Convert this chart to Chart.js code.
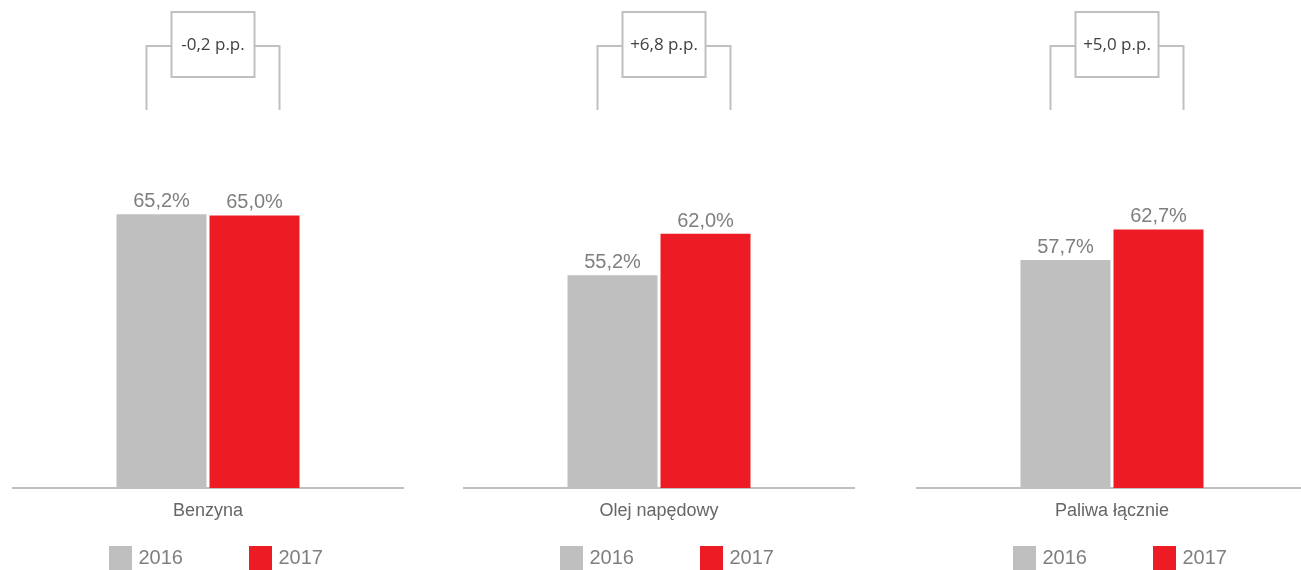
<!DOCTYPE html>
<html>
<head>
<meta charset="utf-8">
<script src="https://cdn.jsdelivr.net/npm/chart.js@4.4.0/dist/chart.umd.min.js"></script>
<style>
  html, body { margin: 0; padding: 0; background: #fff; }
  body { width: 1301px; height: 570px; position: relative; overflow: hidden; }
  .panel { position: absolute; top: 0; width: 392px; height: 570px; }
</style>
</head>
<body>
<div class="panel" style="left:12px"><canvas id="chart-1" width="392" height="570"></canvas></div>
<div class="panel" style="left:463px"><canvas id="chart-2" width="392" height="570"></canvas></div>
<div class="panel" style="left:916px"><canvas id="chart-3" width="392" height="570"></canvas></div>
<script>
const categories = ['Benzyna', 'Olej napędowy', 'Paliwa łącznie'];
const years = ['2016', '2017'];
const values2016 = [65.2, 55.2, 57.7];
const values2017 = [65.0, 62.0, 62.7];
const changes = ['-0,2 p.p.', '+6,8 p.p.', '+5,0 p.p.'];
const colors = ['#bfbfbf', '#ed1c24'];

const FONT = '"Liberation Sans", Arial, sans-serif';

// value labels, bracket with change box, legend
const extras = {
  id: 'extras',
  afterDatasetsDraw(chart, args, opts) {
    const ctx = chart.ctx;
    const bars = [chart.getDatasetMeta(0).data[0], chart.getDatasetMeta(1).data[0]];
    ctx.save();

    ctx.font = '20px ' + FONT;
    ctx.fillStyle = '#7f7f7f';
    ctx.textAlign = 'center';
    ctx.textBaseline = 'alphabetic';
    bars.forEach((bar, i) => {
      const v = chart.data.datasets[i].data[0];
      ctx.fillText(v.toFixed(1).replace('.', ',') + '%', bar.x, bar.y - 7);
    });

    const left = bars[0].x - 15;
    const right = bars[1].x + 25;
    const mid = (left + right) / 2;
    ctx.strokeStyle = '#c0c0c0';
    ctx.lineWidth = 2;
    ctx.beginPath();
    ctx.moveTo(left, 110); ctx.lineTo(left, 46); ctx.lineTo(mid - 41.5, 46);
    ctx.moveTo(mid + 41.5, 46); ctx.lineTo(right, 46); ctx.lineTo(right, 110);
    ctx.stroke();
    ctx.strokeRect(mid - 41.5, 12, 83, 65);
    ctx.font = '17px "Open Sans", ' + FONT;
    ctx.fillStyle = '#404040';
    ctx.textBaseline = 'middle';
    ctx.fillText(opts.change, mid, 45);

    // legend
    const c = (bars[0].x + bars[1].x) / 2;
    ctx.font = '20px ' + FONT;
    ctx.textAlign = 'left';
    ctx.textBaseline = 'alphabetic';
    chart.data.datasets.forEach((ds, i) => {
      const bx = i === 0 ? c - 99 : c + 41;
      ctx.fillStyle = ds.backgroundColor;
      ctx.fillRect(bx, 546, 23, 24);
      ctx.fillStyle = '#7f7f7f';
      ctx.fillText(ds.label, bx + 29.5, 564);
    });
    ctx.restore();
  }
};

categories.forEach((cat, k) => {
  const el = document.getElementById('chart-' + (k + 1)).getContext('2d');
  new Chart(el, {
    type: 'bar',
    data: {
      labels: [cat],
      datasets: [
        { label: years[0], data: [values2016[k]], backgroundColor: colors[0] },
        { label: years[1], data: [values2017[k]], backgroundColor: colors[1] },
      ],
    },
    options: {
      responsive: false,
      animation: false,
      categoryPercentage: 186 / 392,
      barPercentage: 90 / 93,
      layout: { padding: { top: 124, bottom: 42, left: 0, right: 0 } },
      plugins: {
        legend: { display: false },
        tooltip: { enabled: false },
        extras: { change: changes[k] },
      },
      scales: {
        x: {
          grid: { display: false, drawTicks: false },
          border: { display: true, color: '#bfbfbf', width: 2 },
          ticks: { color: '#666', font: { size: 18, family: FONT }, padding: 12 },
          afterFit(s) { s.height = 40; },
        },
        y: {
          display: false,
          min: 20.3,
          max: 80,
        },
      },
    },
    plugins: [extras],
  });
});
</script>
</body>
</html>
